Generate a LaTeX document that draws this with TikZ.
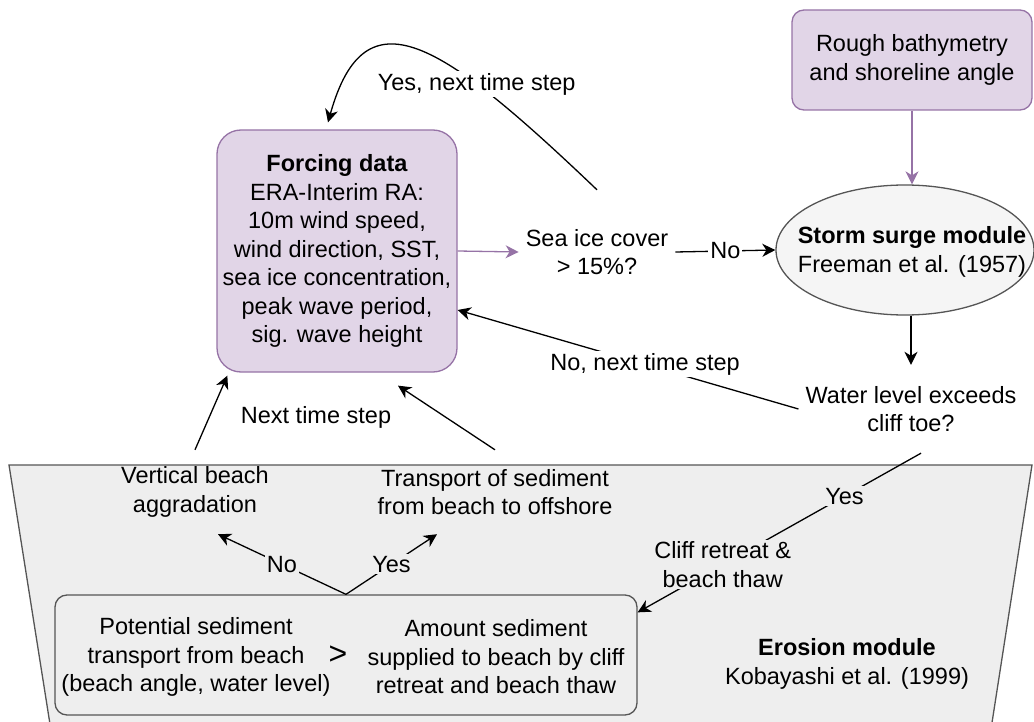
\documentclass[tikz,border=0pt]{standalone}
\usepackage{fontspec}
\setmainfont{Liberation Sans}
\usetikzlibrary{shapes.geometric,arrows.meta}

\definecolor{lilafill}{HTML}{E1D5E7}
\definecolor{liladraw}{HTML}{9673A6}
\definecolor{grayfill}{HTML}{EEEEEE}
\definecolor{surgefill}{HTML}{F5F5F5}
\definecolor{graydraw}{HTML}{555555}

\tikzset{
  txt/.style={align=center, font=\fontsize{23.5}{28.5}\selectfont, inner sep=0pt},
  inputbox/.style={txt, draw=liladraw, fill=lilafill, line width=1.3pt},
  arr/.style={-{Stealth[length=13pt,width=13pt,inset=4pt]}, line width=1.3pt},
  lilaarr/.style={arr, draw=liladraw},
  edgelbl/.style={txt, fill=white, inner sep=2pt},
  grayedgelbl/.style={edgelbl, fill=grayfill},
}

\begin{document}
\begin{tikzpicture}[x=1pt, y=-1pt]
  \useasboundingbox (0,0) rectangle (1034,722);
  \clip (0,0) rectangle (1034,722);

  % erosion module
  \filldraw[fill=grayfill, draw=graydraw, line width=1.3pt] (9,465) -- (1032,465) -- (980,800) -- (62,800) -- cycle;
  \node[txt] (erosion) at (847,664) {\textbf{Erosion module}\\Kobayashi et al. (1999)};

  % inputs and decisions
  \node[inputbox, rounded corners=24pt, minimum width=240pt, minimum height=242pt] (forcing) at (337,251)
    {\textbf{Forcing data}\\ERA-Interim RA:\\10m wind speed,\\wind direction, SST,\\sea ice concentration,\\peak wave period,\\sig. wave height};
  \node[inputbox, rounded corners=12pt, minimum width=240pt, minimum height=100pt] (rough) at (912,60) {Rough bathymetry\\and shoreline angle};
  \node[txt, minimum height=124pt, inner xsep=7pt] (seaice) at (597,252) {Sea ice cover\\> 15\%?};
  \node[ellipse, draw=graydraw, fill=surgefill, line width=1.3pt, minimum width=258pt, minimum height=130pt, inner sep=0pt] (surge) at (905,250) {};
  \node[txt] (surgetxt) at (912,252) {\textbf{Storm surge module}\\Freeman et al. (1957)};
  \node[txt, minimum height=88pt, inner xsep=7pt] (water) at (911,409) {Water level exceeds\\cliff toe?};

  % outcomes
  \node[txt, minimum height=84pt] (aggrad) at (195,492) {Vertical beach\\aggradation};
  \node[txt, minimum height=84pt] (offshore) at (495,492) {Transport of sediment\\from beach to offshore};
  \node[txt] (nextlbl) at (316,417) {Next time step};

  % sediment balance
  \node[draw=graydraw, line width=1.3pt, rounded corners=12pt, minimum width=582pt, minimum height=120pt] (balance) at (346,655) {};
  \node[txt] (potential) at (196,657) {Potential sediment\\transport from beach\\(beach angle, water level)};
  \node[txt, font=\fontsize{32}{32}\selectfont] (gt) at (338,655) {>};
  \node[txt] (supply) at (496,657) {Amount sediment\\supplied to beach by cliff\\retreat and beach thaw};

  % connectors
  \draw[lilaarr] (forcing.east) -- (seaice.west);
  \draw[lilaarr] (rough.south) -- (rough.south |- surge.north);
  \draw[arr] (seaice.east) -- (surge.west) node[midway, edgelbl] {No};
  \draw[arr] (seaice.north) .. controls (440,40) and (365,-10) .. ([xshift=-9pt,yshift=7pt]forcing.north)
    node[pos=0.3, edgelbl] {Yes, next time step};
  \draw[arr] (water.north |- surge.south) -- (water.north);
  \draw[arr] (water.west) -- ([yshift=-59pt]forcing.east) node[pos=0.45, edgelbl] {No, next time step};
  \draw[arr] ([xshift=10pt]water.south) -- ([yshift=-18pt]balance.north east)
    node[pos=0.27, grayedgelbl] {Yes} node[pos=0.7, grayedgelbl] {Cliff retreat \&\\beach thaw};
  \draw[arr] (balance.north) -- ([xshift=23pt]aggrad.south) node[midway, grayedgelbl] {No};
  \draw[arr] (balance.north) -- ([xshift=-58pt]offshore.south) node[midway, grayedgelbl] {Yes};
  \draw[arr] (aggrad.north) -- ([xshift=11pt,yshift=-3pt]forcing.south west);
  \draw[arr] (offshore.north) -- ([xshift=61pt,yshift=-13pt]forcing.south);
\end{tikzpicture}
\end{document}
